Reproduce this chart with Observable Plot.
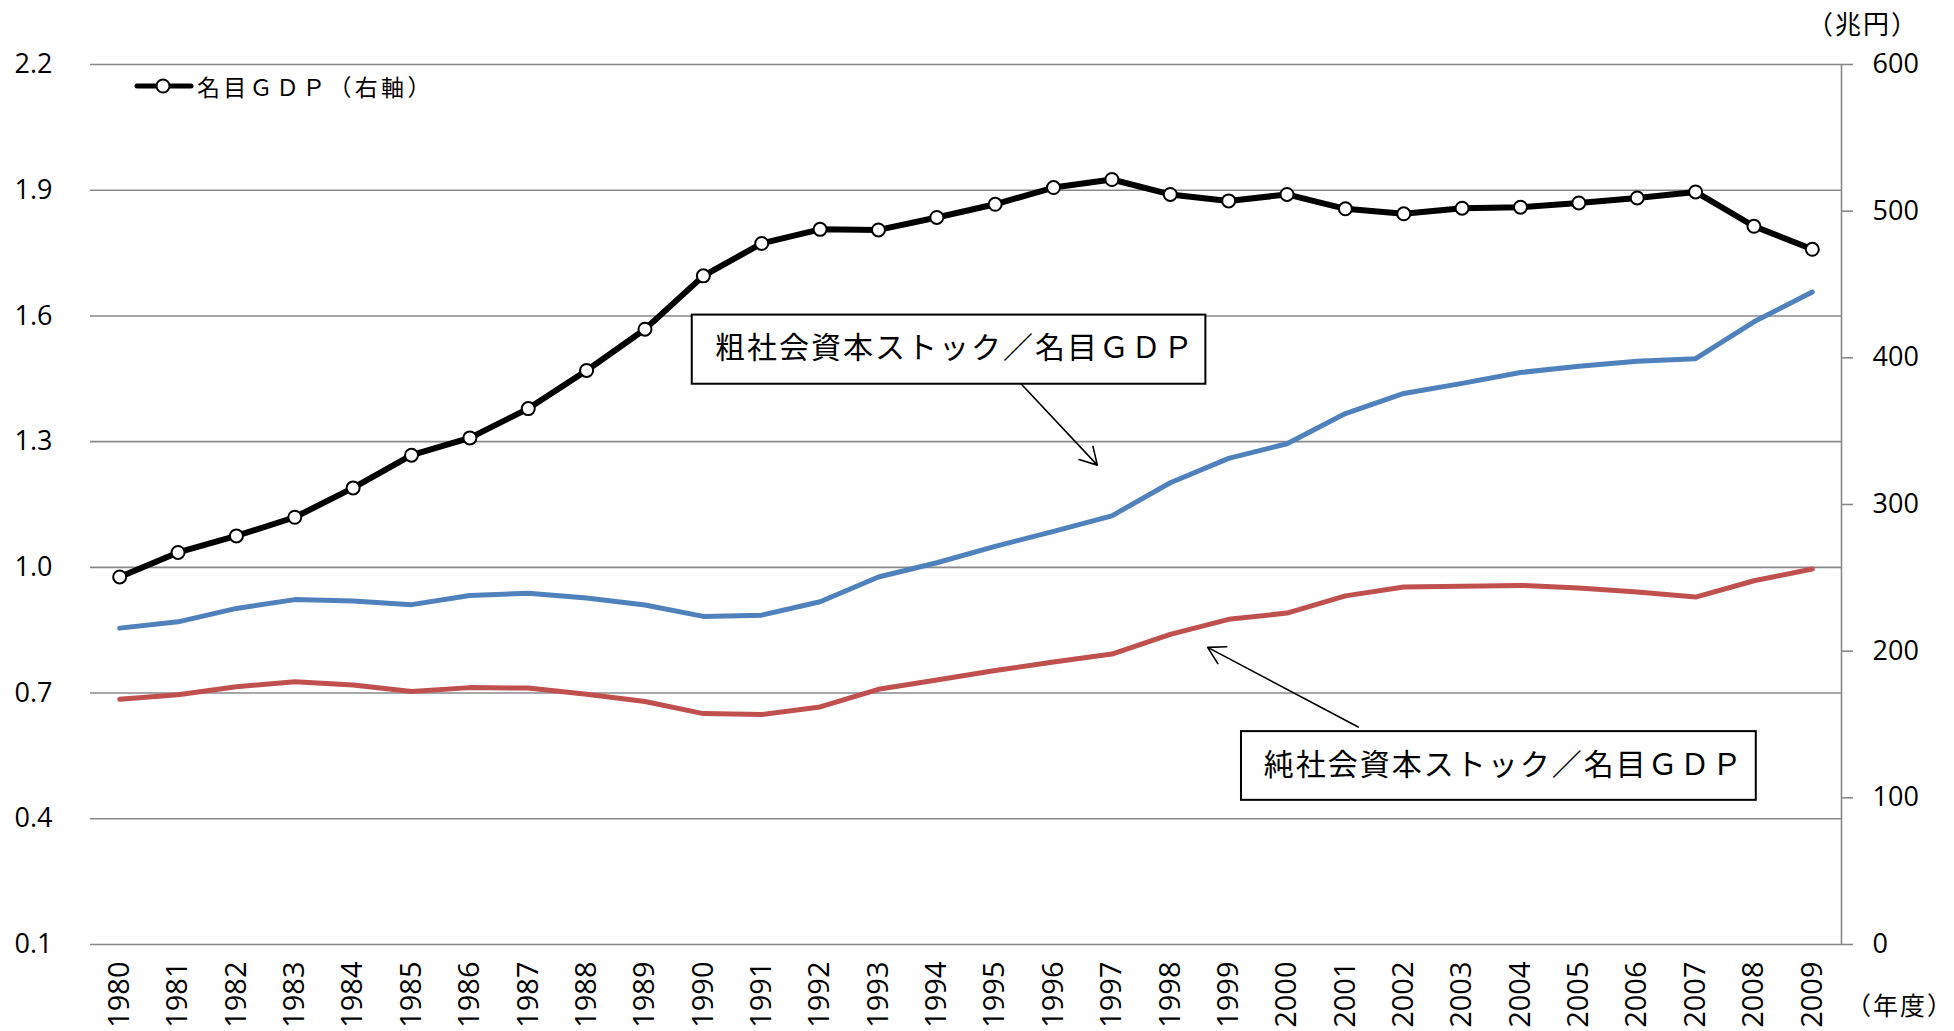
<!DOCTYPE html>
<html>
<head>
<meta charset="utf-8">
<script src="https://cdn.jsdelivr.net/npm/d3@7"></script>
<script src="https://cdn.jsdelivr.net/npm/@observablehq/plot@0.6"></script>
<style>
  html, body { margin: 0; padding: 0; background: #fff; overflow: hidden; }
  #wrap { position: relative; width: 1954px; height: 1031px; }
  .jp { position: absolute; font-family: "Noto Sans CJK JP", sans-serif; color: #000; white-space: nowrap; line-height: 1; }
</style>
</head>
<body>
<div id="wrap">
  <div class="jp" style="left:1807px; top:10px; font-size:26px; letter-spacing:2px;">（兆円）</div>
  <div class="jp" style="left:1846px; top:992px; font-size:25px; letter-spacing:2px;">（年度）</div>
  <div class="jp" style="left:134px; top:74px; font-size:23px; letter-spacing:3.3px; display:flex; align-items:center;">
    <svg width="60" height="24" style="margin-right:3px"><line x1="3" y1="12" x2="57" y2="12" stroke="#000" stroke-width="5" stroke-linecap="round"/><circle cx="29" cy="12" r="6.5" fill="#fff" stroke="#000" stroke-width="2"/></svg>
    <span>名目ＧＤＰ（右軸）</span>
  </div>
</div>
<script>
// ---- data ----
const years = [1980,1981,1982,1983,1984,1985,1986,1987,1988,1989,1990,1991,1992,1993,1994,1995,1996,1997,1998,1999,2000,2001,2002,2003,2004,2005,2006,2007,2008,2009];
const nominalGDP = [250.6,267.3,278.6,291.3,311.3,333.6,345.4,365.4,391.4,419.5,455.9,478.0,487.6,487.2,495.7,504.7,516.1,521.6,511.4,507.0,511.4,501.6,498.2,502.0,502.7,505.6,509.0,513.1,489.7,474.0];
const grossRatio = [0.855,0.870,0.902,0.923,0.920,0.911,0.933,0.938,0.927,0.910,0.883,0.886,0.918,0.977,1.011,1.050,1.086,1.123,1.202,1.260,1.295,1.367,1.415,1.439,1.465,1.480,1.492,1.498,1.586,1.657];
const netRatio = [0.685,0.696,0.715,0.727,0.719,0.704,0.713,0.712,0.697,0.680,0.651,0.649,0.667,0.709,0.731,0.754,0.774,0.793,0.840,0.876,0.891,0.932,0.953,0.955,0.957,0.951,0.941,0.929,0.968,0.996];
const leftTicks = [0.1,0.4,0.7,1.0,1.3,1.6,1.9,2.2];
const rightTicks = [0,100,200,300,400,500,600];
const grossLabel = "粗社会資本ストック／名目ＧＤＰ";
const netLabel = "純社会資本ストック／名目ＧＤＰ";

// annotation boxes / arrows in data coordinates (year, left-axis value)
const boxes = [
  {x1: 1989.81, x2: 1998.61, y1: 1.437, y2: 1.602, tx: 1990.2, ty: 1.522, label: grossLabel},
  {x1: 1999.22, x2: 2008.04, y1: 0.444, y2: 0.608, tx: 1999.6, ty: 0.527, label: netLabel}
];
const arrows = [
  {x1: 1995.45, y1: 1.437, x2: 1996.75, y2: 1.244},
  {x1: 2001.22, y1: 0.619, x2: 1998.64, y2: 0.809}
];

// right axis (0..600 兆円) mapped onto left axis domain (0.1..2.2)
const L0 = 0.1, L1 = 2.2, R0 = 0, R1 = 600;
const toLeft = g => L0 + (g - R0) / (R1 - R0) * (L1 - L0);
const fromLeft = v => R0 + (v - L0) / (L1 - L0) * (R1 - R0);

const rows = years.map((y, i) => ({year: y, gdp: nominalGDP[i], gdpL: toLeft(nominalGDP[i]), gross: grossRatio[i], net: netRatio[i]}));

const chart = Plot.plot({
  width: 1954,
  height: 1031,
  marginLeft: 90,
  marginRight: 113,
  marginTop: 64,
  marginBottom: 87,
  style: {fontFamily: "'Open Sans', 'Liberation Sans', sans-serif", background: "transparent", color: "#000", overflow: "visible"},
  x: {type: "linear", domain: [1979.5, 2009.5], axis: null},
  y: {domain: [L0, L1], axis: null},
  marks: [
    Plot.gridY(leftTicks, {stroke: "#898989", strokeOpacity: 1, strokeWidth: 1.6}),
    Plot.frame({anchor: "right", stroke: "#898989", strokeWidth: 1.6}),
    Plot.axisY(leftTicks, {anchor: "left", tickSize: 0, tickPadding: 38, tickFormat: d => d.toFixed(1), fontSize: 27, label: null}),
    Plot.axisY(rightTicks.map(toLeft), {anchor: "right", tickSize: 11, tickPadding: 20, stroke: "#898989", strokeWidth: 1.6, fill: "#000", tickFormat: v => String(Math.round(fromLeft(v))), fontSize: 27, label: null}),
    Plot.axisX(years, {anchor: "bottom", tickSize: 0, tickPadding: 17, tickRotate: -90, tickFormat: d => String(d), fontSize: 29, label: null}),
    Plot.line(rows, {x: "year", y: "gross", stroke: "#4F81BD", strokeWidth: 5}),
    Plot.line(rows, {x: "year", y: "net", stroke: "#C0504D", strokeWidth: 5}),
    Plot.line(rows, {x: "year", y: "gdpL", stroke: "#000", strokeWidth: 6}),
    Plot.dot(rows, {x: "year", y: "gdpL", r: 6.5, fill: "#fff", stroke: "#000", strokeWidth: 2}),
    Plot.arrow(arrows, {x1: "x1", y1: "y1", x2: "x2", y2: "y2", stroke: "#000", strokeWidth: 1.6, headLength: 18, bend: 0}),
    Plot.rect(boxes, {x1: "x1", x2: "x2", y1: "y1", y2: "y2", fill: "#fff", stroke: "#000", strokeWidth: 2}),
    Plot.text(boxes, {x: "tx", y: "ty", text: "label", textAnchor: "start", fontSize: 30, fontFamily: "'Noto Sans CJK JP', sans-serif", fill: "#000"})
  ]
});
d3.select(chart).selectAll("text")
  .filter(function() { return this.textContent === grossLabel || this.textContent === netLabel; })
  .style("letter-spacing", "2px");
chart.style.position = "absolute";
chart.style.left = "0px";
chart.style.top = "0px";
document.getElementById("wrap").prepend(chart);
</script>
</body>
</html>
